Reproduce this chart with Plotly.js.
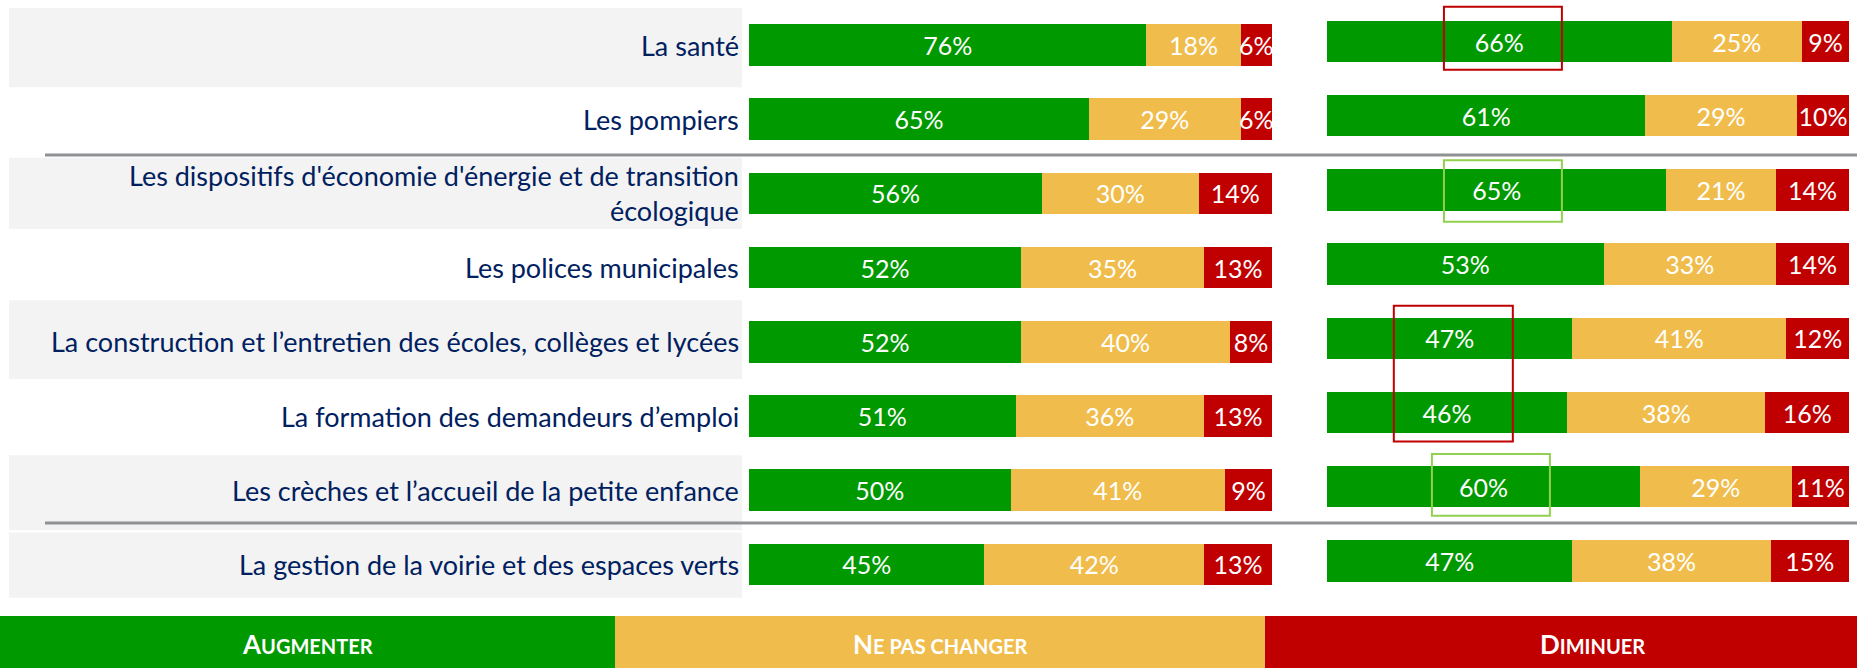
<!DOCTYPE html>
<html>
<head>
<meta charset="utf-8">
<script src="https://cdn.plot.ly/plotly-3.0.1.min.js"></script>
<style>
  html, body { margin: 0; padding: 0; background: #fff; }
  #chart { width: 1857px; height: 668px; }
</style>
</head>
<body>
<div id="chart"></div>
<script>
// categories (top to bottom)
var themes = [
  'La santé',
  'Les pompiers',
  "Les dispositifs d'économie d'énergie et de transition<br>écologique",
  'Les polices municipales',
  'La construction et l’entretien des écoles, collèges et lycées',
  'La formation des demandeurs d’emploi',
  'Les crèches et l’accueil de la petite enfance',
  'La gestion de la voirie et des espaces verts'
];

// left panel
var augmenterA = [76, 65, 56, 52, 52, 51, 50, 45];
var inchangeA  = [18, 29, 30, 35, 40, 36, 41, 42];
var diminuerA  = [6, 6, 14, 13, 8, 13, 9, 13];

// right panel
var augmenterB = [66, 61, 65, 53, 47, 46, 60, 47];
var inchangeB  = [25, 29, 21, 33, 41, 38, 29, 38];
var diminuerB  = [9, 10, 14, 14, 12, 16, 11, 15];

var legendLabels = ['Augmenter', 'Ne pas changer', 'Diminuer'];
var colors = ['#009900', '#f0bd4c', '#c00000'];

var W = 1857, H = 668;
function px(x) { return x / W; }
function py(y) { return 1 - y / H; }

var FONT = 'Lato, "Open Sans", sans-serif';
var NAVY = '#002060';

function serie(vals, i, xa, ya) {
  return {
    type: 'bar', orientation: 'h',
    x: vals, y: themes,
    xaxis: xa, yaxis: ya,
    width: 0.56,
    marker: { color: colors[i], line: { width: 0 } },
    texttemplate: '%{x}%',
    textposition: 'inside',
    insidetextanchor: 'middle',
    textangle: 0,
    constraintext: 'none',
    textfont: { family: FONT, size: 25, color: '#ffffff' },
    hoverinfo: 'skip',
    showlegend: false
  };
}

var data = [
  serie(augmenterA, 0, 'x', 'y'),
  serie(inchangeA, 1, 'x', 'y'),
  serie(diminuerA, 2, 'x', 'y'),
  serie(augmenterB, 0, 'x2', 'y2'),
  serie(inchangeB, 1, 'x2', 'y2'),
  serie(diminuerB, 2, 'x2', 'y2')
];

var shapes = [];
var annotations = [];

// gray bands behind some labels
var bands = [[0, -0.54, 0.57], [2, -0.48, 0.48], [4, -0.56, 0.5], [6, -0.47, 0.54], [7, -0.43, 0.45]];
bands.forEach(function (b) {
  shapes.push({ type: 'rect', layer: 'below', xref: 'paper', yref: 'y',
    x0: px(9), x1: px(742), y0: b[0] + b[1], y1: b[0] + b[2],
    fillcolor: '#f3f3f3', line: { width: 0 } });
});

// separators
[155, 523].forEach(function (y) {
  shapes.push({ type: 'line', xref: 'paper', yref: 'paper',
    x0: px(45), x1: 1, y0: py(y), y1: py(y),
    line: { color: '#8f9194', width: 3 } });
});

// highlight boxes on the right panel
var boxes = [
  { c: '#c00000', x0: 22.4, x1: 45.0, y0: -0.47, y1: 0.38 },
  { c: '#92d050', x0: 22.4, x1: 45.0, y0: 1.60, y1: 2.43 },
  { c: '#c00000', x0: 12.8, x1: 35.6, y0: 3.56, y1: 5.39 },
  { c: '#92d050', x0: 20.1, x1: 42.7, y0: 5.56, y1: 6.39 }
];
boxes.forEach(function (b) {
  shapes.push({ type: 'rect', xref: 'x2', yref: 'y2',
    x0: b.x0, x1: b.x1, y0: b.y0, y1: b.y1,
    line: { color: b.c, width: 2 }, fillcolor: 'rgba(0,0,0,0)' });
});

// row labels
themes.forEach(function (t) {
  annotations.push({ xref: 'paper', yref: 'y', x: px(741), y: t,
    xanchor: 'right', yanchor: 'middle', align: 'right', showarrow: false,
    text: t, font: { family: FONT, size: 27, color: NAVY } });
});

// legend strip
var legendX = [0, 615, 1265, 1857];
var legendTextX = [307, 940, 1592];
legendLabels.forEach(function (lab, i) {
  shapes.push({ type: 'rect', xref: 'paper', yref: 'paper',
    x0: px(legendX[i]), x1: px(legendX[i + 1]), y0: 0, y1: py(616),
    fillcolor: colors[i], line: { width: 0 } });
  var up = lab.toUpperCase();
  annotations.push({ xref: 'paper', yref: 'paper', x: px(legendTextX[i]), y: py(644),
    xanchor: 'center', yanchor: 'middle', showarrow: false,
    text: '<b>' + up.charAt(0) + '<span style="font-size:20px">' + up.slice(1) + '</span></b>',
    font: { family: FONT, size: 26, color: '#ffffff' } });
});

var layout = {
  width: W, height: H,
  margin: { l: 0, r: 0, t: 0, b: 0 },
  paper_bgcolor: '#ffffff', plot_bgcolor: 'rgba(0,0,0,0)',
  barmode: 'stack',
  xaxis: { domain: [px(749), px(1272)], range: [0, 100], visible: false, fixedrange: true },
  yaxis: { domain: [py(601.5), py(7.9)], range: [7.5, -0.5], type: 'category',
    visible: false, fixedrange: true },
  xaxis2: { domain: [px(1327), px(1849)], range: [0, 100], visible: false, anchor: 'y2' },
  yaxis2: { domain: [py(598), py(4.4)], range: [7.5, -0.5], type: 'category',
    visible: false, anchor: 'x2' },
  shapes: shapes,
  annotations: annotations
};

Plotly.newPlot('chart', data, layout, { displayModeBar: false, staticPlot: true });
</script>
</body>
</html>
